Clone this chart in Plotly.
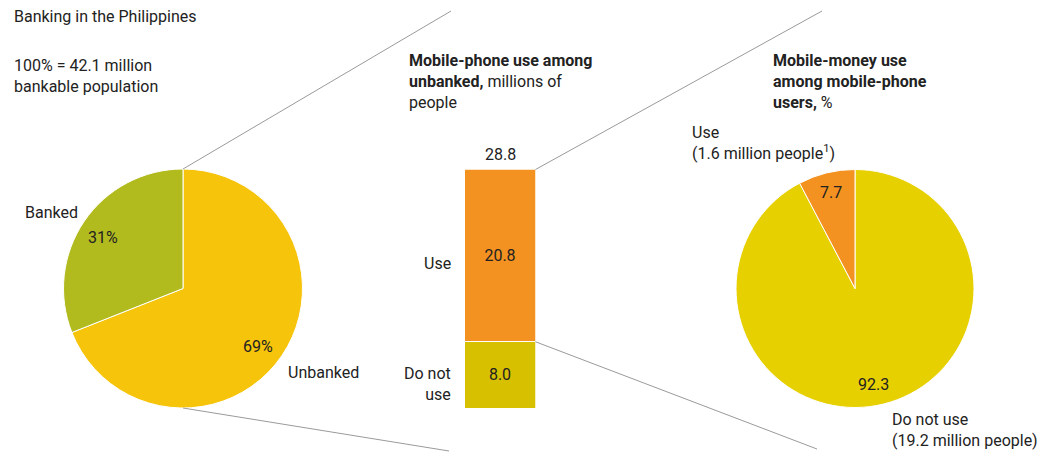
import plotly.graph_objects as go

W, H = 1039, 453

# ---------------- data ----------------
bank_labels = ["Unbanked", "Banked"]
bank_values = [69, 31]

phone_labels = ["Do not use", "Use"]
phone_values = [8.0, 20.8]
phone_total = 28.8

money_labels = ["Do not use", "Use"]
money_values = [92.3, 7.7]

# ---------------- styles ----------------
FONT = "Roboto, Liberation Sans Narrow, sans-serif"
TXT = "#222222"
C_BANKED = "#b2bb1e"
C_UNBANKED = "#f6c40a"
C_ORANGE = "#f39220"
C_BAR_NO = "#d7c000"
C_PIE_NO = "#e7d000"
C_LINE = "#9a9a9a"
FS = 16


def px(x, y):
    return x / W, 1 - y / H


def pie_domain(cx, cy, r):
    return dict(x=[(cx - r) / W, (cx + r) / W], y=[1 - (cy + r) / H, 1 - (cy - r) / H])


fig = go.Figure()

# left pie
fig.add_trace(go.Pie(
    labels=bank_labels, values=bank_values, sort=False,
    textinfo="none", hoverinfo="skip",
    marker=dict(colors=[C_UNBANKED, C_BANKED], line=dict(color="white", width=1)),
    domain=pie_domain(183, 288.5, 119.5), showlegend=False,
))

# right pie
fig.add_trace(go.Pie(
    labels=money_labels, values=money_values, sort=False,
    textinfo="none", hoverinfo="skip",
    marker=dict(colors=[C_PIE_NO, C_ORANGE], line=dict(color="white", width=1)),
    domain=pie_domain(855, 288.5, 119), showlegend=False,
))

# stacked bar
bar_colors = [C_BAR_NO, C_ORANGE]
for lab, val, col in zip(phone_labels, phone_values, bar_colors):
    fig.add_trace(go.Bar(
        x=[0], y=[val], name=lab, marker=dict(color=col, line=dict(color="white", width=1)),
        text=[f"{val:.1f}"], textposition="inside", insidetextanchor="middle",
        textfont=dict(family=FONT, size=FS, color=TXT), hoverinfo="skip",
        width=1, showlegend=False, cliponaxis=False,
    ))

bar_x0, bar_x1 = 465, 535.5
bar_top, bar_bot = 169.5, 408
ydom = [1 - bar_bot / H, 1 - bar_top / H]
fig.update_layout(
    width=W, height=H, margin=dict(l=0, r=0, t=0, b=0),
    paper_bgcolor="white", plot_bgcolor="white",
    barmode="stack", bargap=0,
    xaxis=dict(domain=[bar_x0 / W, bar_x1 / W], range=[-0.5, 0.5], visible=False, fixedrange=True),
    yaxis=dict(domain=ydom, range=[0, phone_total], visible=False, fixedrange=True),
    font=dict(family=FONT, size=FS, color=TXT),
    showlegend=False,
)

# connector lines (bar boundary derived from data)
boundary_py = bar_bot - (phone_values[0] / phone_total) * (bar_bot - bar_top)
lines = [
    ((183, 169), (451, 11)),
    ((183, 408), (449, 451)),
    ((535.5, bar_top), (822, 11)),
    ((535.5, boundary_py), (817, 449)),
]
for (ax, ay), (bx, by) in lines:
    x0, y0 = px(ax, ay)
    x1, y1 = px(bx, by)
    fig.add_shape(type="line", xref="paper", yref="paper", x0=x0, y0=y0, x1=x1, y1=y1,
                  line=dict(color=C_LINE, width=1))


def ann(text, x, y, xanchor="left", yanchor="middle", align="left", size=FS):
    xx, yy = px(x, y)
    fig.add_annotation(text=text, x=xx, y=yy, xref="paper", yref="paper",
                       xanchor=xanchor, yanchor=yanchor, align=align, showarrow=False,
                       font=dict(family=FONT, size=size, color=TXT))


# left block
ann("Banking in the Philippines", 12, 17)
ann("100% = 42.1 million<br>bankable population", 12, 76)
ann(bank_labels[1], 23, 213)
ann(f"{bank_values[1]}%", 103, 237, xanchor="center")
ann(f"{bank_values[0]}%", 258, 346, xanchor="center")
ann(bank_labels[0], 286, 372)

# middle block
ann("<b>Mobile-phone use among<br>unbanked,</b> millions of<br>people", 407, 81)
fig.add_annotation(text=f"{phone_total:.1f}", x=0, y=phone_total, xref="x", yref="y",
                   yanchor="bottom", xanchor="center", yshift=4, showarrow=False,
                   font=dict(family=FONT, size=FS, color=TXT))
ann("Use", 453, 263, xanchor="right", align="right")
ann("Do not<br>use", 453, 384, xanchor="right", align="right")

# right block
ann("<b>Mobile-money use<br>among mobile-phone<br>users,</b> %", 771, 81)
ann("Use<br>(1.6 million people<sup>1</sup>)", 690, 143)
ann(f"{money_values[1]:.1f}", 831, 193, xanchor="center")
ann(f"{money_values[0]:.1f}", 873, 384, xanchor="center")
ann("Do not use<br>(19.2 million people)", 890, 430)

fig.write_html("out.html")
